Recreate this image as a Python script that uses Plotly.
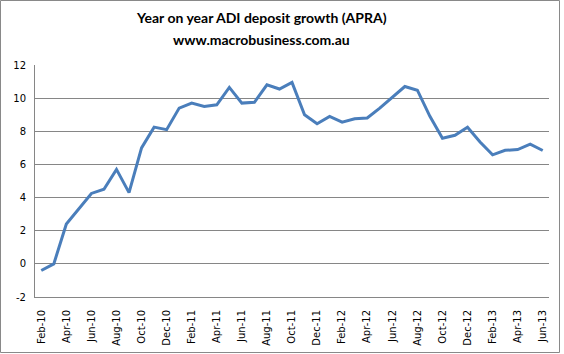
import plotly.graph_objects as go

months = ["Feb-10","Mar-10","Apr-10","May-10","Jun-10","Jul-10","Aug-10","Sep-10","Oct-10","Nov-10","Dec-10",
          "Jan-11","Feb-11","Mar-11","Apr-11","May-11","Jun-11","Jul-11","Aug-11","Sep-11","Oct-11","Nov-11","Dec-11",
          "Jan-12","Feb-12","Mar-12","Apr-12","May-12","Jun-12","Jul-12","Aug-12","Sep-12","Oct-12","Nov-12","Dec-12",
          "Jan-13","Feb-13","Mar-13","Apr-13","May-13","Jun-13"]
growth = [-0.4, 0.0, 2.4, 3.3, 4.25, 4.5, 5.7, 4.3, 7.0, 8.25, 8.1,
          9.4, 9.7, 9.5, 9.6, 10.65, 9.7, 9.75, 10.8, 10.55, 10.95, 9.0, 8.45,
          8.9, 8.55, 8.75, 8.8, 9.4, 10.08, 10.7, 10.48, 8.9, 7.58, 7.76, 8.24,
          7.35, 6.58, 6.85, 6.9, 7.22, 6.84]
tick_labels = months[::2]
y_ticks = [-2, 0, 2, 4, 6, 8, 10, 12]
y_tick_text = ["-2", "0", "2", "4", "6", "8", "10", "12"]
title_lines = ["Year on year ADI deposit growth (APRA)", "www.macrobusiness.com.au"]

W, H = 564, 354
L, R, T, B = 35, 15, 65, 57

fig = go.Figure()
fig.add_trace(go.Scatter(x=months, y=growth, mode="lines",
                         line=dict(color="#4A7EBB", width=3), hoverinfo="skip"))

pw = W - L - R
ph = H - T - B
def px_x(p): return (p - L) / pw
def px_y(p): return (H - B - p) / ph

fig.add_shape(type="rect", xref="paper", yref="paper",
              x0=px_x(0.5), x1=px_x(559.5), y0=px_y(352.5), y1=px_y(0.5),
              line=dict(color="#898989", width=1), fillcolor="rgba(0,0,0,0)", layer="below")

for i, (txt, yc) in enumerate(zip(title_lines, [17, 39])):
    fig.add_annotation(text="<b>" + txt + "</b>", xref="paper", yref="paper",
                       x=px_x(261), y=px_y(yc), xanchor="center", yanchor="middle",
                       showarrow=False,
                       font=dict(family="Lato, Open Sans, sans-serif", size=14, color="black"))

fig.update_layout(
    width=W, height=H, margin=dict(l=L, r=R, t=T, b=B, autoexpand=False),
    paper_bgcolor="white", plot_bgcolor="white", showlegend=False,
    xaxis=dict(type="category", tickmode="array", tickvals=tick_labels, ticktext=tick_labels,
               tickangle=-90, showgrid=False, showline=True, linecolor="#868686", linewidth=1,
               ticks="", ticklabelstandoff=8, automargin=False,
               tickfont=dict(family="DejaVu Sans, Verdana, sans-serif", size=10, color="black"),
               range=[-0.5, len(months) - 0.5]),
    yaxis=dict(range=[-2, 12], tickvals=y_ticks, ticktext=y_tick_text, showgrid=True,
               gridcolor="#868686", gridwidth=1, ticklabelstandoff=6, automargin=False,
               showline=True, linecolor="#868686", linewidth=1, zeroline=False, ticks="",
               tickfont=dict(family="DejaVu Sans, Verdana, sans-serif", size=10, color="black")),
)
fig.write_html("out.html")
